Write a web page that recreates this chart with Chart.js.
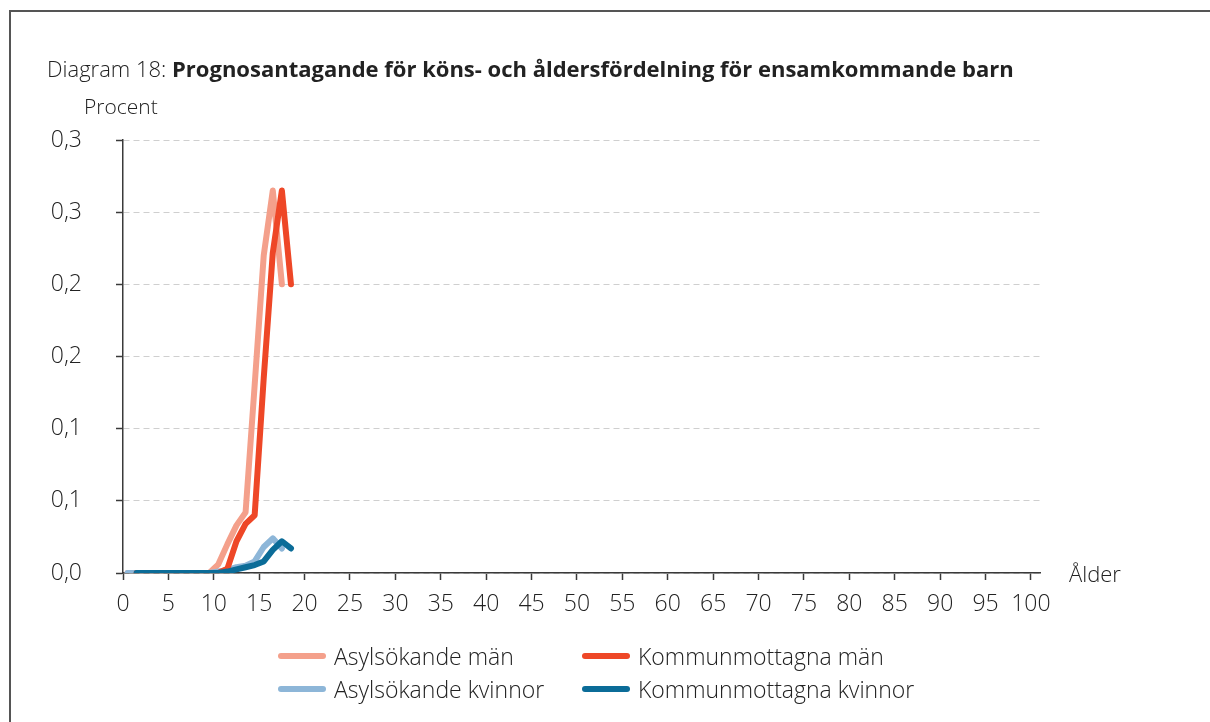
<!DOCTYPE html>
<html>
<head>
<meta charset="utf-8">
<script src="https://cdn.jsdelivr.net/npm/chart.js@4/dist/chart.umd.min.js"></script>
<style>
  body { margin: 0; background: #fff; font-family: "Open Sans", sans-serif; color: #222; }
  #wrap { position: relative; width: 1210px; height: 722px; overflow: hidden; }
  #frame { position: absolute; left: 9px; top: 10px; width: 1220px; height: 740px;
           border-top: 2px solid #555; border-left: 2px solid #555; }
  #chart { position: absolute; left: 0; top: 0; }
  .txt { position: absolute; white-space: nowrap; font-size: 22px; font-weight: 300; line-height: 1; }
  #title { left: 47px; top: 57px; font-size: 22px; }
  #title b { font-weight: 700; }
  #legend { position: absolute; left: 278px; top: 644px; display: grid;
            grid-template-columns: 304px 360px; row-gap: 9px; }
  .item { display: flex; align-items: center; font-size: 23px; font-weight: 300; height: 24px; white-space: nowrap; }
  .swatch { flex: none; width: 48px; height: 6px; border-radius: 3px; margin-right: 8px; }
</style>
</head>
<body>
<div id="wrap">
  <div id="frame"></div>
  <canvas id="chart" width="1210" height="722"></canvas>
  <div class="txt" id="title">Diagram 18: <b>Prognosantagande för köns- och åldersfördelning för ensamkommande barn</b></div>
  <div class="txt" style="left:84px; top:96px; font-size:21px;">Procent</div>
  <div class="txt" style="left:1069px; top:562px;">Ålder</div>
  <div id="legend"></div>
</div>
<script>
// åldrar (asylsökande plottas ett år före kommunmottagna)
var asylAges = [0.5, 1.5, 2.5, 3.5, 4.5, 5.5, 6.5, 7.5, 8.5, 9.5, 10.5, 11.5, 12.5, 13.5, 14.5, 15.5, 16.5, 17.5];
var kommunAges = [1.5, 2.5, 3.5, 4.5, 5.5, 6.5, 7.5, 8.5, 9.5, 10.5, 11.5, 12.5, 13.5, 14.5, 15.5, 16.5, 17.5, 18.5];

var asylMan = [0, 0, 0, 0, 0, 0, 0, 0, 0, 0, 0.006, 0.02, 0.033, 0.042, 0.13, 0.22, 0.265, 0.2];
var kommunMan = [0, 0, 0, 0, 0, 0, 0, 0, 0, 0, 0.003, 0.022, 0.034, 0.04, 0.135, 0.222, 0.265, 0.2];
var asylKvinnor = [0, 0, 0, 0, 0, 0, 0, 0, 0, 0, 0.001, 0.002, 0.004, 0.005, 0.008, 0.018, 0.024, 0.017];
var kommunKvinnor = [0, 0, 0, 0, 0, 0, 0, 0, 0, 0, 0.001, 0.0025, 0.004, 0.0055, 0.008, 0.016, 0.022, 0.017];

var seriesNames = ['Asylsökande män', 'Kommunmottagna män', 'Asylsökande kvinnor', 'Kommunmottagna kvinnor'];
var seriesColors = ['#F4A08B', '#EE4727', '#8DB6D8', '#0B6C98'];

var xTicks = [0, 5, 10, 15, 20, 25, 30, 35, 40, 45, 50, 55, 60, 65, 70, 75, 80, 85, 90, 95, 100];
var yTicks = [0, 0.05, 0.1, 0.15, 0.2, 0.25, 0.3];
var yTickLabels = ['0,0', '0,1', '0,1', '0,2', '0,2', '0,3', '0,3'];

function pts(ages, vals) {
  return ages.map(function (a, i) { return { x: a, y: vals[i] }; });
}

function ds(i, ages, vals, order) {
  return {
    label: seriesNames[i],
    data: pts(ages, vals),
    borderColor: seriesColors[i],
    backgroundColor: seriesColors[i],
    borderWidth: 6,
    borderCapStyle: 'round',
    borderJoinStyle: 'round',
    pointRadius: 0,
    tension: 0,
    order: order
  };
}

var font = { family: '"Open Sans", sans-serif', size: 23, weight: 300 };

var ctx = document.getElementById('chart').getContext('2d');
var myChart = new Chart(ctx, {
  type: 'line',
  data: {
    datasets: [
      ds(0, asylAges, asylMan, 3),
      ds(1, kommunAges, kommunMan, 1),
      ds(2, asylAges, asylKvinnor, 2),
      ds(3, kommunAges, kommunKvinnor, 0)
    ]
  },
  options: {
    responsive: false,
    animation: false,
    layout: { padding: { left: 0, top: 140, right: 170, bottom: 0 } },
    plugins: { legend: { display: false }, tooltip: { enabled: false } },
    scales: {
      x: {
        type: 'linear',
        min: 0,
        max: 101,
        afterBuildTicks: function (axis) { axis.ticks = xTicks.map(function (v) { return { value: v }; }); },
        afterFit: function (axis) { axis.height = 149; },
        grid: { drawOnChartArea: false, drawTicks: true, tickLength: 7, tickColor: '#3a3a3a', tickWidth: 1.5 },
        border: { color: '#3a3a3a', width: 1.5 },
        ticks: { color: '#222', font: font, padding: 11, maxRotation: 0, autoSkip: false }
      },
      y: {
        min: 0,
        max: 0.3,
        afterBuildTicks: function (axis) { axis.ticks = yTicks.map(function (v) { return { value: v }; }); },
        afterFit: function (axis) { axis.width = 123; },
        grid: { color: '#cfcfcf', lineWidth: 1, tickLength: 7, tickColor: '#3a3a3a', tickWidth: 1.5, tickBorderDash: [] },
        border: { color: '#3a3a3a', width: 1.5, dash: [6, 4] },
        ticks: {
          color: '#222', font: font, padding: 34,
          callback: function (v, i) { return yTickLabels[i]; }
        }
      }
    }
  }
});

// legend i två kolumner
var leg = document.getElementById('legend');
myChart.data.datasets.forEach(function (d) {
  var it = document.createElement('div');
  it.className = 'item';
  it.innerHTML = '<span class="swatch" style="background:' + d.borderColor + '"></span>' + d.label;
  leg.appendChild(it);
});
</script>
</body>
</html>
